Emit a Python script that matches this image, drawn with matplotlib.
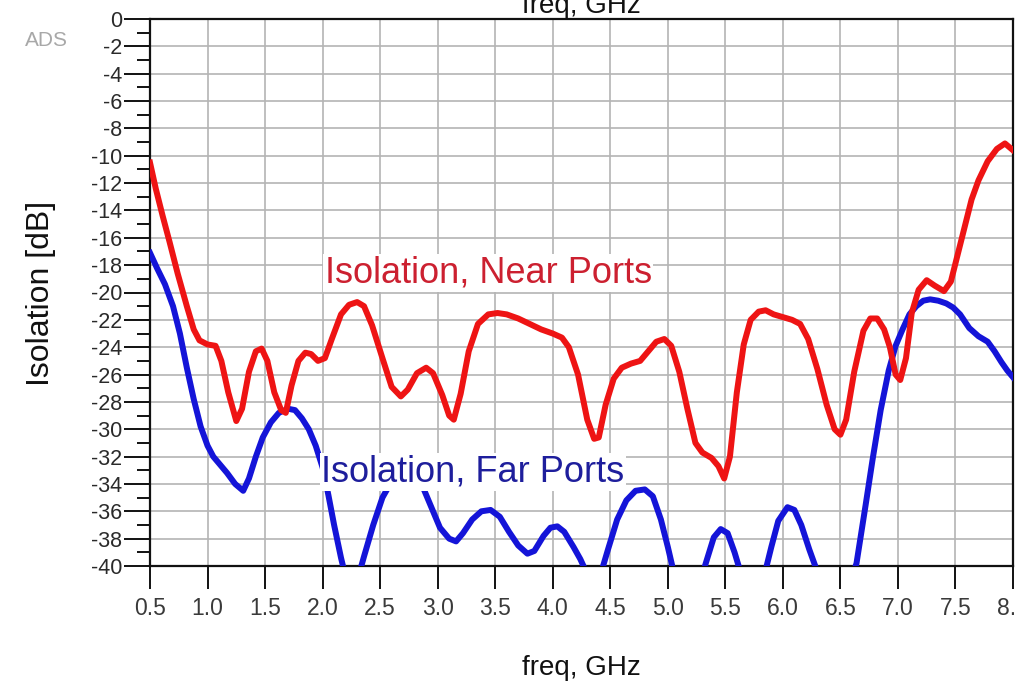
import numpy as np
import matplotlib
matplotlib.use("Agg")
import matplotlib.pyplot as plt
from matplotlib.ticker import MultipleLocator, FormatStrFormatter

plt.rcParams["font.family"] = ["Liberation Sans", "DejaVu Sans"]

# ---- data (freq in GHz, isolation in dB) ----
near_f = [0.50, 0.55, 0.61, 0.67, 0.74, 0.82, 0.88, 0.93, 1.00, 1.07, 1.12, 1.18,
          1.25, 1.30, 1.36, 1.42, 1.47, 1.52, 1.58, 1.64, 1.68, 1.73, 1.79, 1.85,
          1.90, 1.96, 2.02, 2.08, 2.16, 2.23, 2.30, 2.36, 2.43, 2.52, 2.60, 2.68,
          2.74, 2.82, 2.90, 2.96, 3.04, 3.10, 3.14, 3.20, 3.27, 3.35, 3.44, 3.52,
          3.60, 3.70, 3.80, 3.90, 4.00, 4.08, 4.14, 4.22, 4.30, 4.36, 4.40, 4.46,
          4.53, 4.60, 4.68, 4.76, 4.83, 4.90, 4.97, 5.03, 5.10, 5.17, 5.24, 5.30,
          5.38, 5.44, 5.49, 5.54, 5.60, 5.66, 5.72, 5.79, 5.85, 5.92, 6.00, 6.08,
          6.15, 6.22, 6.30, 6.38, 6.45, 6.50, 6.55, 6.62, 6.70, 6.76, 6.82, 6.88,
          6.93, 6.98, 7.02, 7.07, 7.12, 7.18, 7.25, 7.32, 7.40, 7.46, 7.52, 7.58,
          7.64, 7.70, 7.78, 7.86, 7.93, 8.00]
near_db = [-10.5, -12.4, -14.4, -16.3, -18.6, -21.0, -22.7, -23.5, -23.8, -23.9, -25.0, -27.3,
           -29.4, -28.5, -25.8, -24.3, -24.1, -25.0, -27.3, -28.6, -28.8, -26.8, -25.0, -24.4,
           -24.5, -25.0, -24.8, -23.4, -21.6, -20.9, -20.7, -21.0, -22.4, -24.8, -26.9, -27.6,
           -27.1, -25.9, -25.5, -25.9, -27.5, -29.0, -29.3, -27.4, -24.3, -22.3, -21.6, -21.5,
           -21.6, -21.9, -22.3, -22.7, -23.0, -23.3, -24.0, -26.0, -29.3, -30.7, -30.6, -28.2,
           -26.3, -25.5, -25.2, -25.0, -24.3, -23.6, -23.4, -23.9, -25.8, -28.5, -31.0, -31.7,
           -32.1, -32.7, -33.6, -32.0, -27.3, -23.8, -22.0, -21.4, -21.3, -21.6, -21.8, -22.0,
           -22.3, -23.4, -25.6, -28.2, -30.0, -30.4, -29.3, -25.8, -22.8, -21.9, -21.9, -22.7,
           -24.0, -26.0, -26.4, -24.8, -21.5, -19.8, -19.1, -19.5, -19.9, -19.2, -17.2, -15.2,
           -13.2, -11.8, -10.4, -9.5, -9.1, -9.6]

far_f = [0.50, 0.56, 0.63, 0.70, 0.76, 0.82, 0.88, 0.94, 1.00, 1.05, 1.10, 1.17,
         1.24, 1.31, 1.36, 1.42, 1.48, 1.55, 1.62, 1.70, 1.76, 1.82, 1.88, 1.94,
         2.00, 2.05, 2.10, 2.16, 2.20, 2.26, 2.31, 2.36, 2.44, 2.52, 2.60, 2.70,
         2.78, 2.86, 2.94, 3.02, 3.10, 3.16, 3.22, 3.30, 3.38, 3.46, 3.54, 3.62,
         3.70, 3.78, 3.84, 3.92, 3.98, 4.04, 4.10, 4.18, 4.24, 4.30, 4.36, 4.42,
         4.48, 4.56, 4.64, 4.72, 4.80, 4.87, 4.94, 5.00, 5.05, 5.12, 5.20, 5.27,
         5.33, 5.40, 5.46, 5.52, 5.58, 5.63, 5.70, 5.78, 5.85, 5.90, 5.96, 6.04,
         6.10, 6.16, 6.23, 6.29, 6.38, 6.48, 6.57, 6.64, 6.72, 6.78, 6.85, 6.92,
         6.98, 7.04, 7.10, 7.16, 7.22, 7.28, 7.35, 7.42, 7.48, 7.54, 7.62, 7.70,
         7.78, 7.84, 7.90, 7.95, 8.00]
far_db = [-17.1, -18.2, -19.4, -21.0, -23.0, -25.5, -27.8, -29.8, -31.2, -32.0, -32.5, -33.2,
          -34.0, -34.5, -33.6, -32.0, -30.6, -29.5, -28.8, -28.5, -28.6, -29.2, -30.0, -31.2,
          -32.8, -34.8, -37.0, -39.4, -40.8, -41.6, -40.8, -39.3, -37.0, -35.0, -33.8, -33.2,
          -33.3, -34.0, -35.6, -37.2, -38.0, -38.2, -37.6, -36.6, -36.0, -35.9, -36.4, -37.5,
          -38.5, -39.1, -38.9, -37.8, -37.2, -37.1, -37.5, -38.6, -39.5, -40.6, -41.0, -40.5,
          -38.8, -36.6, -35.2, -34.5, -34.4, -34.9, -36.6, -38.6, -40.4, -42.0, -42.5, -41.5,
          -39.8, -37.9, -37.3, -37.6, -39.0, -40.4, -41.5, -41.4, -40.3, -38.6, -36.7, -35.7,
          -35.9, -37.0, -38.8, -40.2, -42.0, -42.5, -41.6, -39.8, -35.5, -32.2, -28.6, -25.7,
          -23.9, -22.7, -21.6, -21.0, -20.6, -20.5, -20.6, -20.8, -21.1, -21.6, -22.6, -23.2,
          -23.6, -24.3, -25.1, -25.7, -26.2]

W, H = 1016, 683
fig = plt.figure(figsize=(W / 100, H / 100), dpi=100)
ax = fig.add_axes([150 / W, 1 - 566 / H, 863 / W, 547 / H])

ax.plot(far_f, far_db, color="#1414d8", lw=4.3, solid_joinstyle="round", zorder=3)
ax.plot(near_f, near_db, color="#ee1414", lw=4.3, solid_joinstyle="round", zorder=4)

ax.set_xlim(0.5, 8.0)
ax.set_ylim(-40, 0)
ax.xaxis.set_major_locator(MultipleLocator(0.5))
ax.xaxis.set_major_formatter(FormatStrFormatter("%.1f"))
ax.yaxis.set_major_locator(MultipleLocator(2))
ax.yaxis.set_minor_locator(MultipleLocator(1))
ax.yaxis.set_major_formatter(FormatStrFormatter("%d"))

ax.grid(True, which="major", color="#b4b4b4", lw=1.2)
ax.set_axisbelow(True)
for sp in ax.spines.values():
    sp.set_color("#111111")
    sp.set_linewidth(1.6)

ax.tick_params(axis="x", which="major", direction="out", length=16.5, width=1.4,
               pad=6, labelsize=16.5, labelcolor="#3a3a3a", color="#111111")
ax.tick_params(axis="y", which="major", direction="out", length=19, width=1.4,
               pad=1, labelsize=15.5, labelcolor="#2a2a2a", color="#111111")
ax.tick_params(axis="y", which="minor", direction="out", length=9.5, width=1.4,
               color="#111111")

# curve labels (ADS draws them on a white box)
ax.text(2.02, -19.3, "Isolation, Near Ports", color="#cc2030", fontsize=26,
        va="baseline", ha="left", zorder=5,
        bbox=dict(fc="white", ec="none", pad=1))
ax.text(1.99, -33.8, "Isolation, Far Ports", color="#1e1e9c", fontsize=26,
        va="baseline", ha="left", zorder=5,
        bbox=dict(fc="white", ec="none", pad=1))

fig.text(41 / W, 1 - 293 / H, "Isolation [dB]", rotation=90, ha="center",
         va="center", fontsize=23, color="#111111")
fig.text(581.5 / W, 1 - 675 / H, "freq, GHz", ha="center", va="baseline",
         fontsize=20, color="#111111")
# the plot above is cropped: only the bottom of its x label shows
fig.text(581.5 / W, 1 - 13 / H, "freq, GHz", ha="center", va="baseline",
         fontsize=20, color="#111111")
fig.text(25 / W, 1 - 46 / H, "ADS", ha="left", va="baseline", fontsize=15,
         color="#a8a8a8")

fig.savefig("out.png", dpi=100, facecolor="white")
